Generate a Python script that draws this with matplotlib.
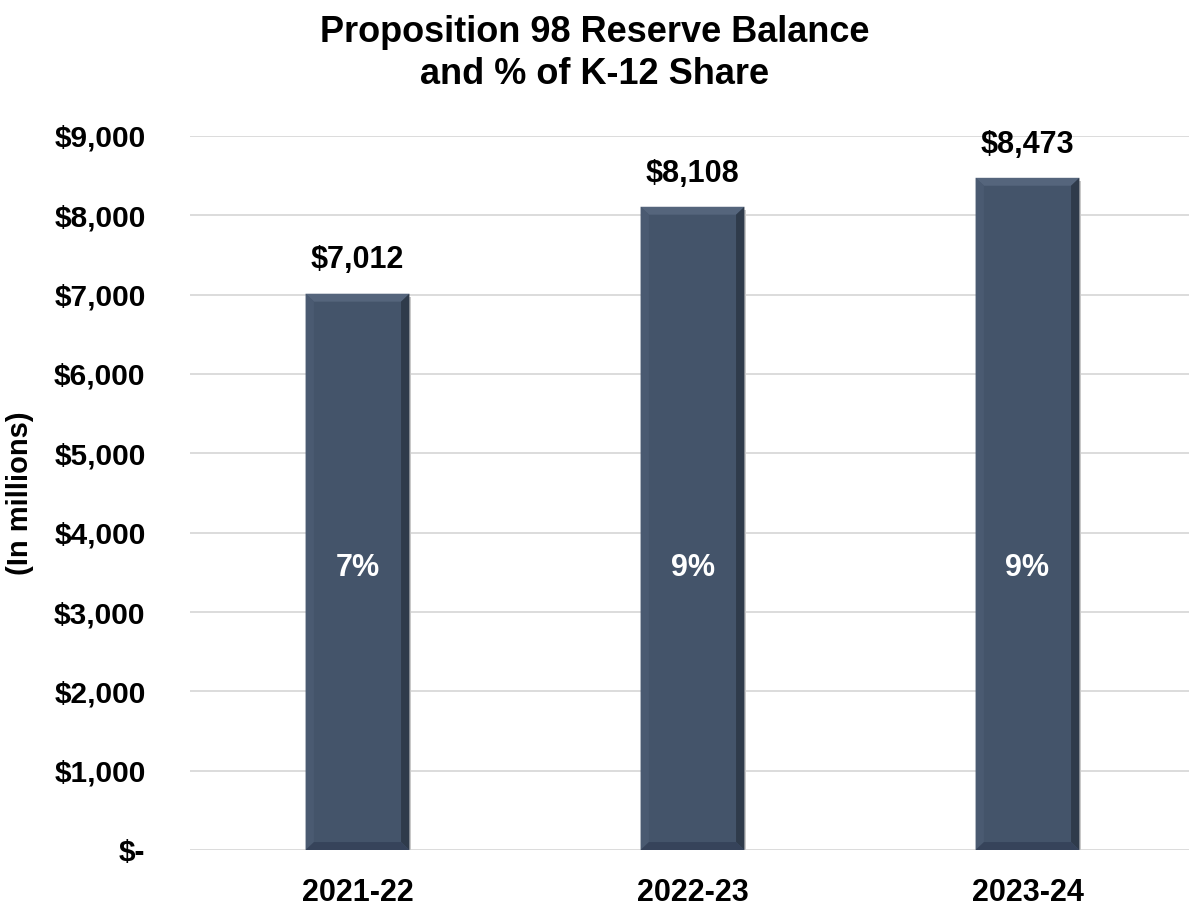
import matplotlib.pyplot as plt
from matplotlib.patches import Polygon
from matplotlib import font_manager

years = ["2021-22", "2022-23", "2023-24"]
reserve = [7012, 8108, 8473]
k12_share = ["7%", "9%", "9%"]
yticks = [0, 1000, 2000, 3000, 4000, 5000, 6000, 7000, 8000, 9000]
ytick_labels = ["$-", "$1,000", "$2,000", "$3,000", "$4,000", "$5,000",
                "$6,000", "$7,000", "$8,000", "$9,000"]

names = {f.name for f in font_manager.fontManager.ttflist}
font = "Liberation Sans Narrow" if "Liberation Sans Narrow" in names else "Liberation Sans"
plt.rcParams['font.family'] = [font, 'DejaVu Sans']
plt.rcParams['font.weight'] = 'bold'

bar_color = "#44546A"

fig = plt.figure(figsize=(11.89, 9.11), dpi=100)
ax = fig.add_axes([190/1189, 61/911, 1005/1189, 714/911])

x = range(len(years))
width = 0.31
ax.set_xlim(-0.5, 2.5)
ax.set_ylim(0, 9000)

# soft shadow under each bar
for i, v in zip(x, reserve):
    ax.bar(i + 0.006, v, width, bottom=-40, color="#c8c8c8", zorder=2)
bars = ax.bar(x, reserve, width, color=bar_color, zorder=3)

# bevel edges on bars
bx = 0.025   # bevel width in category units
by = 100     # bevel height in data units
for i, v in zip(x, reserve):
    l, r = i - width/2, i + width/2
    edges = [
        ([(l, v), (r, v), (r - bx, v - by), (l + bx, v - by)], "#55657c"),
        ([(l, 0), (l, v), (l + bx, v - by), (l + bx, by)], "#4a5a71"),
        ([(r, 0), (r, v), (r - bx, v - by), (r - bx, by)], "#2f3b4b"),
        ([(l, 0), (r, 0), (r - bx, by), (l + bx, by)], "#36435a"),
    ]
    for pts, c in edges:
        ax.add_patch(Polygon(pts, closed=True, color=c, lw=0, zorder=4))

for i, v, s in zip(x, reserve, k12_share):
    ax.text(i, v + 230, f"${v:,}", ha="center", va="bottom", fontsize=22,
            fontweight="bold", color="black")
    ax.text(i, 3560, s, ha="center", va="center", fontsize=22,
            fontweight="bold", color="white", zorder=5)

ax.set_yticks(yticks)
ax.set_yticklabels(ytick_labels, fontsize=21.5, fontweight="bold")
ax.set_xticks(list(x))
ax.set_xticklabels(years, fontsize=22, fontweight="bold")
ax.tick_params(axis="y", length=0, pad=32)
ax.tick_params(axis="x", length=0, pad=20)
ax.grid(axis="y", color="#d9d9d9", lw=1.3, zorder=0)
for sp in ax.spines.values():
    sp.set_visible(False)

ax.set_ylabel("(In millions)", fontsize=21, fontweight="bold")
ax.yaxis.set_label_coords(-156/1005, 0.5)

fig.suptitle("Proposition 98 Reserve Balance\nand % of K-12 Share", fontsize=26,
             fontweight="bold", y=0.983, linespacing=1.25)

fig.savefig("out.png", dpi=100)
